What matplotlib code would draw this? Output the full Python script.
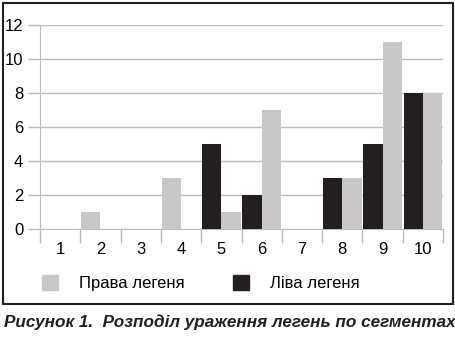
import matplotlib.pyplot as plt
import numpy as np
from matplotlib.patches import Rectangle, Patch

# дані: сегменти легень і кількість уражень
segments = ['1', '2', '3', '4', '5', '6', '7', '8', '9', '10']
right_lung = [0, 1, 0, 3, 1, 7, 0, 3, 11, 8]   # Права легеня
left_lung = [0, 0, 0, 0, 5, 2, 0, 3, 5, 8]     # Ліва легеня
y_ticks = [0, 2, 4, 6, 8, 10, 12]

plt.rcParams['font.family'] = ['Liberation Sans', 'DejaVu Sans']
grey = '#c8c8c8'
black = '#231f20'
line_grey = '#bcbcbc'

fig = plt.figure(figsize=(4.56, 3.4), dpi=100)
ax = fig.add_axes([40 / 456, 1 - 229 / 340, 403 / 456, 204 / 340])

x = np.arange(len(segments))
w = 0.48
left = np.array(left_lung)
right = np.array(right_lung)
# якщо лівої немає, сіра колонка стоїть на лівому місці (як в оригіналі)
right_pos = np.where(left > 0, x + w / 2, x - w / 2)
ax.bar(x[left > 0] - w / 2, left[left > 0], width=w, color=black, zorder=3)
ax.bar(right_pos[right > 0], right[right > 0], width=w, color=grey, zorder=3)

ax.set_xlim(-0.5, len(segments) - 0.5)
ax.set_ylim(0, 12)
ax.set_yticks(y_ticks)
ax.set_yticklabels([str(v) for v in y_ticks], fontsize=12)
ax.grid(axis='y', color=line_grey, linewidth=1, zorder=0)
ax.set_xticks(x)
ax.set_xticklabels(segments, fontsize=12)
ax.set_xticks(np.arange(len(segments) + 1) - 0.5, minor=True)
ax.tick_params(axis='x', which='major', length=0, pad=9)
ax.tick_params(axis='x', which='minor', length=10, color=line_grey, width=1)
ax.tick_params(axis='y', length=9, color=line_grey, width=1, pad=3)
for s in ['top', 'right']:
    ax.spines[s].set_visible(False)
ax.spines['left'].set_color(line_grey)
ax.spines['bottom'].set_color(line_grey)

handles = [Patch(color=grey), Patch(color=black)]
fig.legend(handles, ['Права легеня', 'Ліва легеня'], ncol=2, frameon=False,
           loc='center left', bbox_to_anchor=(27 / 456, 1 - 283 / 340),
           fontsize=12, handlelength=0.96, handleheight=0.96,
           handletextpad=1.26, columnspacing=2.9)

fig.patches.append(Rectangle((3 / 456, 1 - 304 / 340), 450 / 456, 301 / 340,
                             transform=fig.transFigure, fill=False,
                             edgecolor=black, linewidth=1.5))

fig.text(4 / 456, 1 - 322 / 340, 'Рисунок 1.  Розподіл ураження легень по сегментах',
         fontsize=12.3, fontweight='bold', fontstyle='italic', color=black,
         va='center', ha='left')

fig.savefig('out.png', dpi=100)
